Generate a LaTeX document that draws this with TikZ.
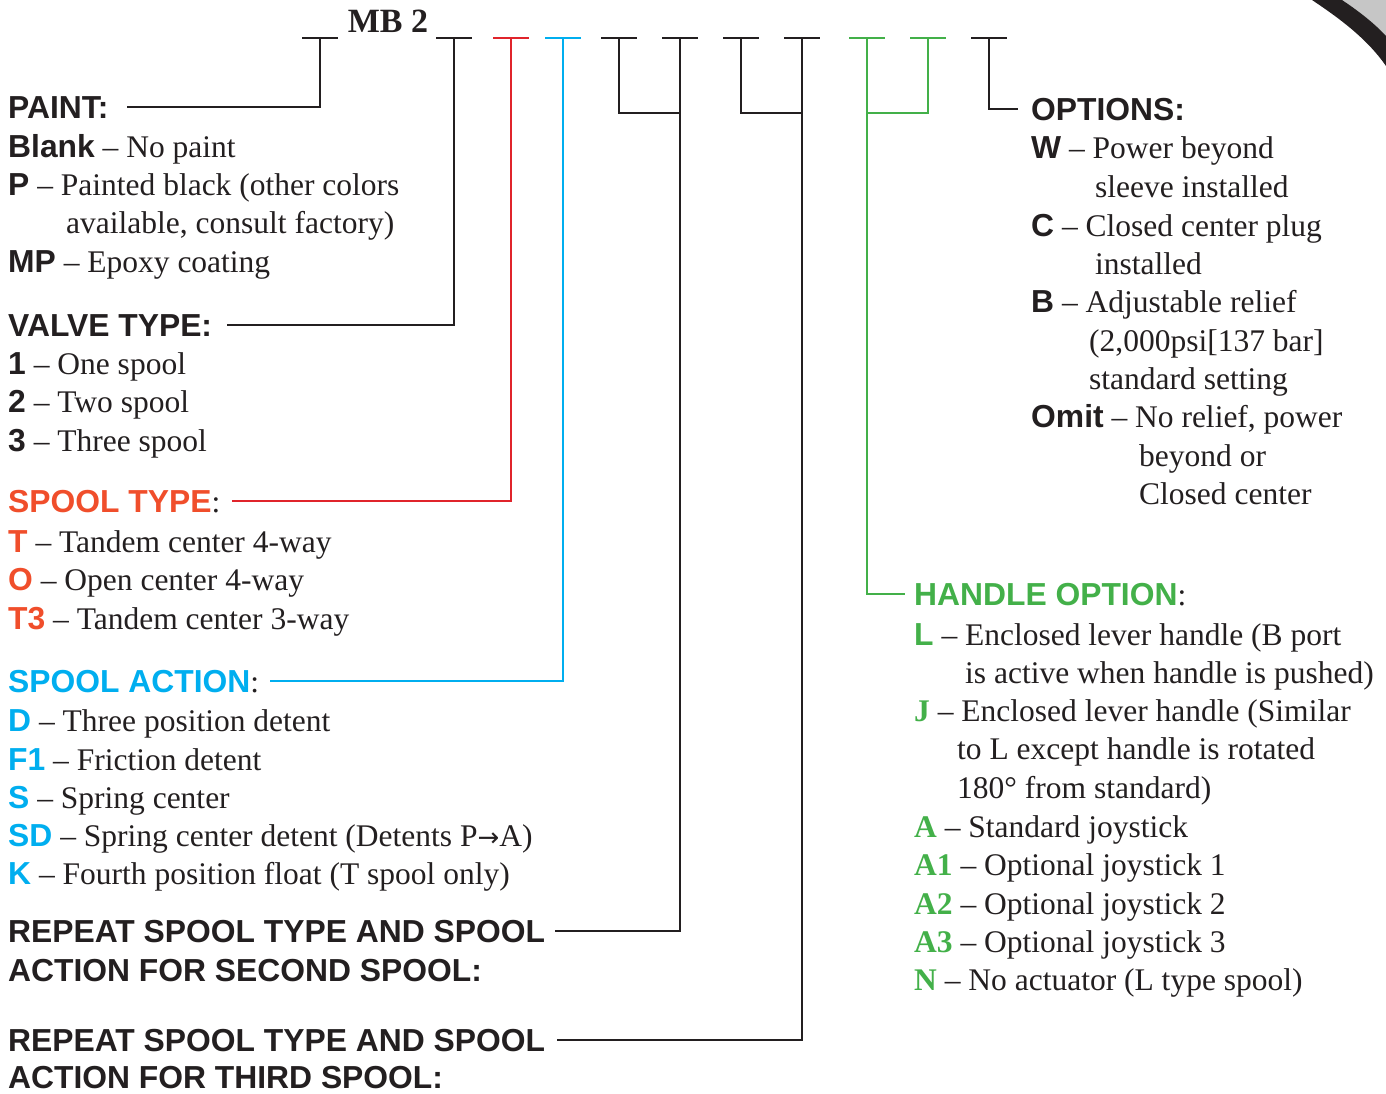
\documentclass[tikz,border=0pt]{standalone}
\usepackage{fontspec}
\setmainfont{Liberation Serif}
\newfontfamily\hsans[Scale=1.01]{Liberation Sans}
\newfontfamily\dvs{DejaVu Sans}
\definecolor{sred}{HTML}{F04E2B}
\definecolor{lred}{HTML}{E0242B}
\definecolor{sblue}{HTML}{00AEEF}
\definecolor{sgreen}{HTML}{43B049}
\definecolor{ink}{HTML}{231F20}
\newcommand\mylab[1]{{\hsans\bfseries #1}}
\newcommand\myred[1]{{\hsans\bfseries\color{sred}#1}}
\newcommand\myblue[1]{{\hsans\bfseries\color{sblue}#1}}
\newcommand\mygreen[1]{{\hsans\bfseries\color{sgreen}#1}}
\newcommand\mygs[1]{{\bfseries\color{sgreen}#1}}
\newcommand\myarrow{{\dvs\fontsize{26}{30}\selectfont →}}
\begin{document}
\begin{tikzpicture}[x=1pt,y=-1pt,
  font=\fontsize{31.5}{38}\selectfont,
  txt/.style={anchor=base west, inner sep=0pt, text=ink},
  conn/.style={line width=2.4pt, draw=ink},
  bar/.style={line width=2.4pt}]
\useasboundingbox (0,0) rectangle (1386,1093);

% top-right decoration
\fill[gray!45] (1342,0) .. controls (1360,12) and (1375,24) .. (1386,36) -- (1386,0) -- cycle;
\fill[ink] (1312,0) .. controls (1342,20) and (1368,40) .. (1386,66) -- (1386,36)
  .. controls (1375,24) and (1360,12) .. (1342,0) -- cycle;

% code
\node[anchor=base, inner sep=0pt, text=ink, font=\fontsize{34}{40}\selectfont\bfseries] (code) at (388,32) {MB 2};

\foreach \x/\c in {320/ink, 454/ink, 511/lred, 563/sblue, 619/ink, 680/ink, 741/ink, 802/ink, 867/sgreen, 928/sgreen, 989/ink}{
  \draw[bar,draw=\c] (\x-18,38) -- (\x+18,38);
  \coordinate (t\x) at (\x,38);
}
\coordinate (j1) at (680,113);
\coordinate (j2) at (802,113);
\coordinate (j3) at (867,113);

% left column
\node[txt] (paint) at (8,118) {\mylab{PAINT:}};
\node[txt] (pa1) at (8,157) {\mylab{Blank} – No paint};
\node[txt] (pa2) at (8,195) {\mylab{P} – Painted black (other colors};
\node[txt] (pa3) at (66,233) {available, consult factory)};
\node[txt] (pa4) at (8,272) {\mylab{MP} – Epoxy coating};

\node[txt] (valve) at (8,336) {\mylab{VALVE TYPE:}};
\node[txt] (v1) at (8,374) {\mylab{1} – One spool};
\node[txt] (v2) at (8,412) {\mylab{2} – Two spool};
\node[txt] (v3) at (8,451) {\mylab{3} – Three spool};

\node[txt] (stype) at (8,512) {\myred{SPOOL TYPE}:};
\node[txt] (st1) at (8,552) {\myred{T} – Tandem center 4-way};
\node[txt] (st2) at (8,590) {\myred{O} – Open center 4-way};
\node[txt] (st3) at (8,629) {\myred{T3} – Tandem center 3-way};

\node[txt] (saction) at (8,692) {\myblue{SPOOL ACTION}:};
\node[txt] (sa1) at (8,731) {\myblue{D} – Three position detent};
\node[txt] (sa2) at (8,770) {\myblue{F1} – Friction detent};
\node[txt] (sa3) at (8,808) {\myblue{S} – Spring center};
\node[txt] (sa4) at (8,846) {\myblue{SD} – Spring center detent (Detents P\myarrow A)};
\node[txt] (sa5) at (8,884) {\myblue{K} – Fourth position float (T spool only)};

\node[txt] (rep1) at (8,942) {\mylab{REPEAT SPOOL TYPE AND SPOOL}};
\node[txt] (rep1b) at (8,981) {\mylab{ACTION FOR SECOND SPOOL:}};
\node[txt] (rep2) at (8,1051) {\mylab{REPEAT SPOOL TYPE AND SPOOL}};
\node[txt] (rep2b) at (8,1088) {\mylab{ACTION FOR THIRD SPOOL:}};

% right column: options
\node[txt] (opts) at (1031,120) {\mylab{OPTIONS:}};
\node[txt] (o1) at (1031,158) {\mylab{W} – Power beyond};
\node[txt] (o1b) at (1095,197) {sleeve installed};
\node[txt] (o2) at (1031,236) {\mylab{C} – Closed center plug};
\node[txt] (o2b) at (1095,274) {installed};
\node[txt] (o3) at (1031,312) {\mylab{B} – Adjustable relief};
\node[txt] (o3b) at (1089,351) {(2,000psi[137 bar]};
\node[txt] (o3c) at (1089,389) {standard setting};
\node[txt] (o4) at (1031,427) {\mylab{Omit} – No relief, power};
\node[txt] (o4b) at (1139,466) {beyond or};
\node[txt] (o4c) at (1139,504) {Closed center};

% handle option
\node[txt] (handle) at (914,605) {\mygreen{HANDLE OPTION}:};
\node[txt] (h1) at (914,645) {\mygreen{L} – Enclosed lever handle (B port};
\node[txt] (h1b) at (965,683) {is active when handle is pushed)};
\node[txt] (h2) at (914,721) {\mygs{J} – Enclosed lever handle (Similar};
\node[txt] (h2b) at (957,759) {to L except handle is rotated};
\node[txt] (h2c) at (957,798) {180° from standard)};
\node[txt] (h3) at (914,837) {\mygs{A} – Standard joystick};
\node[txt] (h4) at (914,875) {\mygs{A1} – Optional joystick 1};
\node[txt] (h5) at (914,914) {\mygs{A2} – Optional joystick 2};
\node[txt] (h6) at (914,952) {\mygs{A3} – Optional joystick 3};
\node[txt] (h7) at (914,990) {\mygs{N} – No actuator (L type spool)};

% connectors
\draw[conn] (t320) |- ([xshift=18pt]paint.east);
\draw[conn] (t454) |- ([xshift=15pt]valve.east);
\draw[conn,draw=lred] (t511) |- ([xshift=12pt]stype.east);
\draw[conn,draw=sblue] (t563) |- ([xshift=11pt]saction.east);
\draw[conn] (t619) |- (j1);
\draw[conn] (t680) |- ([xshift=10pt]rep1.east);
\draw[conn] (t741) |- (j2);
\draw[conn] (t802) |- ([xshift=12pt]rep2.east);
\draw[conn,draw=sgreen] (t928) |- (j3);
\draw[conn,draw=sgreen] (t867) |- ([xshift=-9pt]handle.west);
\draw[conn] (t989) |- ([xshift=-13pt]opts.west);
\end{tikzpicture}
\end{document}
